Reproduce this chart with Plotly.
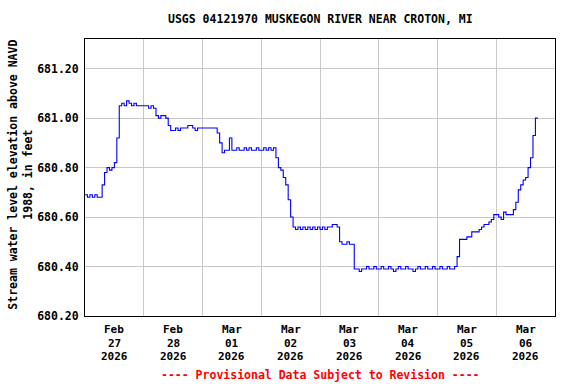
import pandas as pd
import plotly.graph_objects as go

# Hourly readings starting 2026-02-27 00:00
start_time = "2026-02-27 00:00"
elevation_ft = [
    # Feb 27
    680.69, 680.68, 680.69, 680.68, 680.69, 680.68, 680.68, 680.73, 680.78, 680.80,
    680.79, 680.80, 680.82, 680.92, 681.05, 681.06, 681.05, 681.07, 681.06, 681.05,
    681.06, 681.05, 681.05, 681.05,
    # Feb 28
    681.05, 681.05, 681.04, 681.05, 681.04, 681.01, 681.00, 681.01, 681.01, 681.00,
    680.97, 680.95, 680.95, 680.96, 680.95, 680.96, 680.96, 680.96, 680.97, 680.97,
    680.96, 680.95, 680.96, 680.96,
    # Mar 01
    680.96, 680.96, 680.96, 680.96, 680.96, 680.96, 680.94, 680.90, 680.86, 680.87,
    680.87, 680.92, 680.87, 680.87, 680.88, 680.87, 680.87, 680.88, 680.87, 680.88,
    680.87, 680.87, 680.88, 680.87,
    # Mar 02
    680.87, 680.88, 680.87, 680.88, 680.87, 680.88, 680.84, 680.80, 680.79, 680.76,
    680.73, 680.67, 680.60, 680.56, 680.55, 680.56, 680.55, 680.56, 680.55, 680.56,
    680.55, 680.56, 680.55, 680.56,
    # Mar 03
    680.55, 680.56, 680.55, 680.56, 680.56, 680.57, 680.57, 680.56, 680.50, 680.49,
    680.49, 680.50, 680.49, 680.49, 680.39, 680.39, 680.38, 680.39, 680.39, 680.40,
    680.39, 680.39, 680.40, 680.39,
    # Mar 04
    680.39, 680.40, 680.39, 680.39, 680.40, 680.39, 680.38, 680.39, 680.40, 680.39,
    680.39, 680.40, 680.39, 680.39, 680.38, 680.39, 680.40, 680.39, 680.39, 680.40,
    680.39, 680.39, 680.40, 680.39,
    # Mar 05
    680.39, 680.40, 680.39, 680.39, 680.40, 680.39, 680.39, 680.40, 680.44, 680.51,
    680.51, 680.51, 680.52, 680.52, 680.54, 680.54, 680.54, 680.55, 680.56, 680.57,
    680.57, 680.58, 680.59, 680.61,
    # Mar 06
    680.61, 680.60, 680.59, 680.62, 680.61, 680.61, 680.61, 680.63, 680.66, 680.71,
    680.73, 680.75, 680.76, 680.80, 680.84, 680.93, 681.00, 681.00,
]
times = pd.date_range(start_time, periods=len(elevation_ft), freq="h")

day_label_positions = ["2026-02-27 12:00", "2026-02-28 12:00", "2026-03-01 12:00",
                       "2026-03-02 12:00", "2026-03-03 12:00", "2026-03-04 12:00",
                       "2026-03-05 12:00", "2026-03-06 12:00"]
label_months = ["Feb", "Feb", "Mar", "Mar", "Mar", "Mar", "Mar", "Mar"]
label_days = ["27", "28", "01", "02", "03", "04", "05", "06"]
label_years = ["2026"] * 8
y_ticks = [680.20, 680.40, 680.60, 680.80, 681.00, 681.20]
y_ticktext = ["680.20", "680.40", "680.60", "680.80", "681.00", "681.20"]

FONT = "DejaVu Sans Mono"
BOLD = dict(family=FONT, size=11.5, color="black", weight="bold")
DATE_FONT = dict(family=FONT, size=11, color="black", weight="bold")

fig = go.Figure()
fig.add_trace(go.Scatter(
    x=times, y=elevation_ft, mode="lines",
    line=dict(color="#0000ff", width=1.1, shape="hv"),
    hoverinfo="skip", showlegend=False,
))

fig.update_layout(
    width=576, height=384,
    margin=dict(l=85, r=21, t=39, b=68),
    paper_bgcolor="white", plot_bgcolor="white",
    font=BOLD,
    showlegend=False,
)
fig.update_xaxes(
    range=["2026-02-27 00:00", "2026-03-07 00:00"],
    tickmode="array", tickvals=day_label_positions,
    showticklabels=False, showgrid=False, ticks="",
    minor=dict(dtick=86400000, tick0="2026-02-27", showgrid=True,
               gridcolor="#c8c8c8", gridwidth=1, ticks=""),
    showline=True, mirror=True, linecolor="black", linewidth=1,
    zeroline=False,
)
fig.update_yaxes(
    range=[680.20, 681.32],
    tickmode="array", tickvals=y_ticks, ticktext=y_ticktext,
    showgrid=True, gridcolor="#c8c8c8", gridwidth=1,
    ticks="", ticklabelstandoff=3,
    showline=True, mirror=True, linecolor="black", linewidth=1,
    zeroline=False,
    tickfont=BOLD,
)

# three-line date labels under each day
for xv, m, d, yr in zip(day_label_positions, label_months, label_days, label_years):
    for txt, yp in ((m, -0.0505), (d, -0.0986), (yr, -0.1466)):
        fig.add_annotation(text=txt, xref="x", yref="paper", x=xv, y=yp,
                           xanchor="center", yanchor="middle", showarrow=False,
                           borderpad=0, font=DATE_FONT)

fig.add_annotation(
    text="USGS 04121970 MUSKEGON RIVER NEAR CROTON, MI",
    xref="paper", yref="paper", x=0.5, y=1.072, xanchor="center", yanchor="middle",
    showarrow=False, font=BOLD,
)
fig.add_annotation(
    text="Stream water level elevation above NAVD<br>1988, in feet",
    xref="paper", yref="paper", x=-0.139, y=0.509, xanchor="center", yanchor="middle",
    textangle=-90, showarrow=False, font=BOLD,
)
fig.add_annotation(
    text="---- Provisional Data Subject to Revision ----",
    xref="paper", yref="paper", x=0.5, y=-0.213, xanchor="center", yanchor="middle",
    showarrow=False, font=dict(family=FONT, size=11.5, color="red", weight="bold"),
)

fig.write_html("out.html", config={"displayModeBar": False},
               post_script="document.body.style.margin='0';")
